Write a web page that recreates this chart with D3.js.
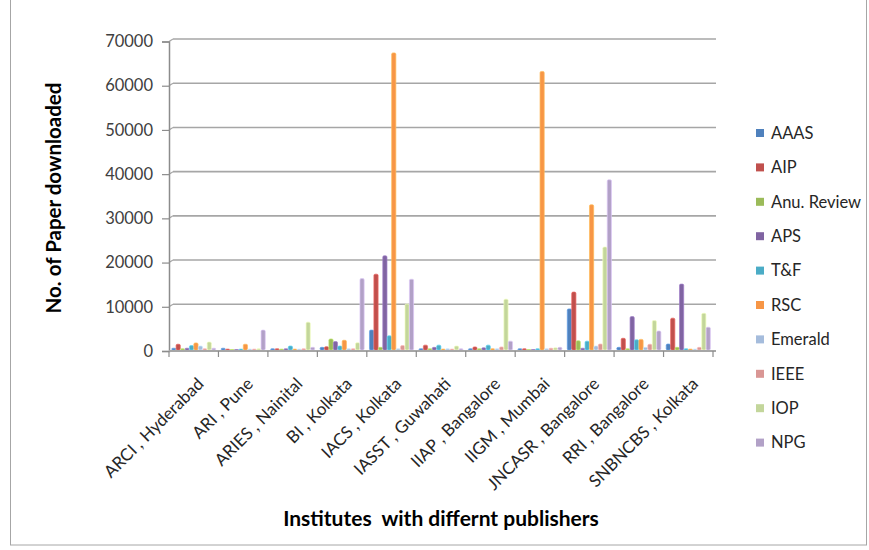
<!DOCTYPE html>
<html>
<head>
<meta charset="utf-8">
<script src="https://cdn.jsdelivr.net/npm/d3@7"></script>
<style>
  html, body { margin: 0; padding: 0; background: #ffffff; }
  svg { display: block; font-family: Lato, "Open Sans", sans-serif; }
</style>
</head>
<body>
<svg id="chart" width="869" height="550"></svg>
<script>
// Institutes on the category axis
const categories = [
  "ARCI , Hyderabad", "ARI , Pune", "ARIES , Nainital", "BI , Kolkata",
  "IACS , Kolkata", "IASST , Guwahati", "IIAP , Bangalore", "IIGM , Mumbai",
  "JNCASR , Bangalore", "RRI , Bangalore", "SNBNCBS , Kolkata"
];

// Publishers (one series each)
const publishers = ["AAAS", "AIP", "Anu. Review", "APS", "T&F", "RSC", "Emerald", "IEEE", "IOP", "NPG"];

// Papers downloaded per institute, one array per publisher
const aaas      = [400, 400, 300, 600, 4500, 300, 300, 300, 9300, 600, 1350];
const aip       = [1300, 200, 300, 750, 17150, 1100, 700, 300, 13100, 2650, 7200];
const anuReview = [300, 100, 200, 2500, 600, 300, 300, 100, 2100, 300, 600];
const aps       = [400, 100, 300, 1900, 21300, 600, 500, 100, 400, 7550, 14900];
const tandf     = [1000, 200, 900, 900, 3200, 1100, 1100, 300, 2000, 2300, 300];
const rsc       = [1600, 1300, 200, 2200, 67200, 200, 300, 63000, 32850, 2400, 200];
const emerald   = [900, 200, 200, 300, 300, 300, 300, 300, 900, 600, 200];
const ieee      = [300, 200, 300, 300, 1000, 200, 700, 400, 1350, 1300, 600];
const iop       = [1800, 300, 6300, 1650, 10400, 900, 11500, 500, 23300, 6650, 8300];
const npg       = [400, 4500, 600, 16150, 16000, 300, 2000, 600, 38500, 4300, 5150];

// Y axis ticks
const yTicks = [0, 10000, 20000, 30000, 40000, 50000, 60000, 70000];

const seriesValues = [aaas, aip, anuReview, aps, tandf, rsc, emerald, ieee, iop, npg];
const colors = ["#4f81bd", "#c0504d", "#9bbb59", "#8064a2", "#4bacc6",
                "#f79646", "#a5bcdc", "#d99694", "#c3d69b", "#b2a1c7"];

const svg = d3.select("#chart");

// Outer chart frame
svg.append("rect")
  .attr("x", 10.5).attr("y", -1)
  .attr("width", 856).attr("height", 546)
  .attr("fill", "none").attr("stroke", "#a6a6a6").attr("stroke-width", 1);

const x0 = d3.scaleBand().domain(categories).range([169, 713]).paddingInner(0).paddingOuter(0);
const x1 = d3.scaleBand().domain(publishers).range([0, x0.bandwidth()])
  .paddingInner(0.06).paddingOuter(0.6);
const y = d3.scaleLinear().domain([0, 70000]).range([351, 41.5]);

// Back-wall gridlines (slightly offset for depth)
const depthX = 4, depthY = 2.5;
const grid = svg.append("g").attr("class", "grid");
yTicks.filter(d => d > 0).forEach(t => {
  grid.append("line")
    .attr("x1", 169 + depthX).attr("x2", 716)
    .attr("y1", y(t) - depthY).attr("y2", y(t) - depthY)
    .attr("stroke", "#a6a6a6").attr("stroke-width", 1.6);
  grid.append("line")
    .attr("x1", 169).attr("x2", 169 + depthX)
    .attr("y1", y(t)).attr("y2", y(t) - depthY)
    .attr("stroke", "#a6a6a6").attr("stroke-width", 1.2);
});

// Y axis
const yAxis = svg.append("g")
  .attr("transform", "translate(169,0)")
  .call(d3.axisLeft(y).tickValues(yTicks).tickSize(7).tickPadding(9).tickFormat(d3.format("d")));
yAxis.select(".domain").attr("stroke", "#8c8c8c").attr("stroke-width", 1.5);
yAxis.selectAll(".tick line").attr("stroke", "#8c8c8c").attr("stroke-width", 1.2);
yAxis.selectAll(".tick text").attr("fill", "#404040").attr("font-size", 16.5)
  .attr("font-family", "Lato, sans-serif");

// Bars
const bars = svg.append("g").attr("class", "bars");
publishers.forEach((p, si) => {
  const g = bars.append("g");
  g.selectAll("rect")
    .data(seriesValues[si].map((v, ci) => ({ cat: categories[ci], v })))
    .join("rect")
    .attr("x", d => x0(d.cat) + x1(p))
    .attr("y", d => y(d.v) - 1)
    .attr("width", x1.bandwidth())
    .attr("height", d => Math.max(0, y(0) - y(d.v)))
    .attr("rx", 1.3)
    .attr("fill", colors[si])
    .attr("stroke", d3.color(colors[si]).brighter(0.6))
    .attr("stroke-width", 0.7);
});

// Floor line and category ticks
const xAxis = svg.append("g")
  .attr("transform", "translate(0,351)");
xAxis.append("line")
  .attr("x1", 169).attr("x2", 716).attr("y1", 0).attr("y2", 0)
  .attr("stroke", "#a6a6a6").attr("stroke-width", 2);
const boundaries = categories.map(c => x0(c)).concat([x0.range()[1]]);
xAxis.selectAll("line.tick")
  .data(boundaries)
  .join("line")
  .attr("class", "tick")
  .attr("x1", d => d).attr("x2", d => d)
  .attr("y1", 0).attr("y2", 6)
  .attr("stroke", "#8c8c8c").attr("stroke-width", 1.2);

// Rotated category labels
svg.append("g").selectAll("text")
  .data(categories)
  .join("text")
  .attr("transform", d => `translate(${x0(d) + x0.bandwidth() / 2 + 11},385) rotate(-45)`)
  .attr("text-anchor", "end")
  .attr("fill", "#262626")
  .attr("font-size", 17)
  .text(d => d);

// Axis titles
svg.append("text")
  .attr("transform", "translate(61,198) rotate(-90)")
  .attr("text-anchor", "middle")
  .attr("font-size", 20.5).attr("font-weight", "bold").attr("fill", "#000")
  .text("No. of Paper downloaded");

svg.append("text")
  .attr("x", 441).attr("y", 526)
  .attr("text-anchor", "middle")
  .attr("font-size", 21).attr("font-weight", "bold").attr("fill", "#000")
  .style("white-space", "pre")
  .text("Institutes  with differnt publishers");

// Legend
const legend = svg.append("g").attr("class", "legend");
publishers.forEach((p, i) => {
  const ly = 133 + i * 34.4;
  legend.append("rect")
    .attr("x", 756).attr("y", ly - 4).attr("width", 8).attr("height", 8)
    .attr("fill", colors[i]);
  legend.append("text")
    .attr("x", 771).attr("y", ly).attr("dy", "0.35em")
    .attr("font-size", 16.5).attr("fill", "#262626")
    .text(p);
});
</script>
</body>
</html>
